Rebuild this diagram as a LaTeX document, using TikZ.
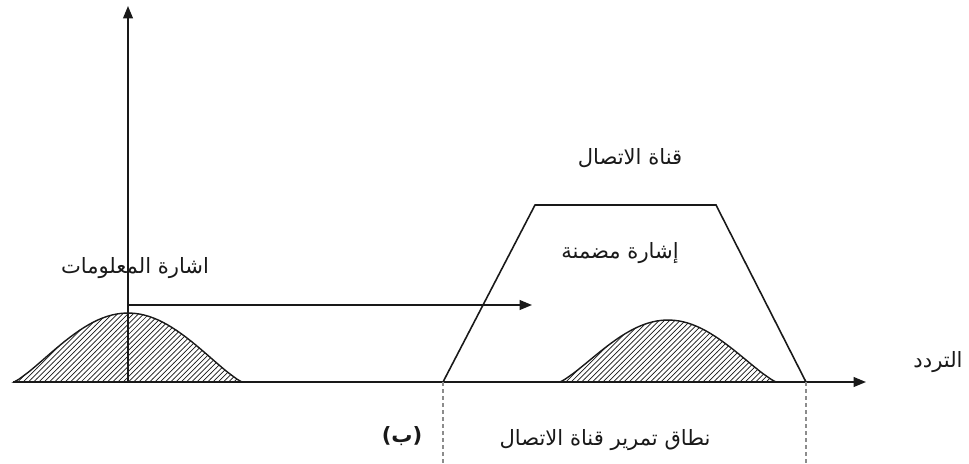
\documentclass[tikz,border=0pt]{standalone}
\usepackage{fontspec}
\usepackage{tikz}
\usetikzlibrary{arrows.meta,patterns}
\newfontfamily\arabicfont[Script=Arabic]{DejaVu Sans}
\TeXXeTstate=1
\definecolor{inkK}{RGB}{25,25,25}
\definecolor{dashG}{RGB}{140,140,140}

\begin{document}
\begin{tikzpicture}[
  x=0.02cm,y=-0.02cm,
  >={Triangle[length=7pt,width=5.5pt]},
  ax/.style={draw=inkK,line width=1pt},
  hump/.style={draw=inkK,line width=0.8pt,pattern=north east lines,pattern color=inkK},
  chan/.style={draw=inkK,line width=0.9pt},
  lim/.style={draw=dashG,line width=1.1pt,dash pattern=on 2pt off 2pt},
  lab/.style={font=\arabicfont\fontsize{12}{14}\selectfont,inner sep=1pt,text=inkK}
]
  \useasboundingbox (0,0) rectangle (969,463);

  % baseband and modulated spectra
  \filldraw[hump] plot[domain=-1:1,samples=50] ({128+114*\x},{382-69*cos(90*\x)^1.2}) -- cycle;
  \filldraw[hump] plot[domain=-1:1,samples=50] ({668+108*\x},{382-62*cos(90*\x)^1.2}) -- cycle;

  % axes
  \coordinate (org) at (128,382);
  \coordinate (ytop) at (128,6);
  \coordinate (xbeg) at (13,382);
  \coordinate (xend) at (866,382);
  \draw[ax,->] (org) -- (ytop);
  \draw[ax,->] (xbeg) -- (xend);

  % shift to the channel
  \coordinate (shL) at (128,305);
  \coordinate (shR) at (532,305);
  \draw[ax,->] (shL) -- (shR);

  % channel passband
  \coordinate (cBL) at (443,382);
  \coordinate (cTL) at (535,205);
  \coordinate (cTR) at (716,205);
  \coordinate (cBR) at (806,382);
  \draw[chan] (cBL) -- (cTL) -- (cTR) -- (cBR);
  \coordinate (dL) at (443,463);
  \coordinate (dR) at (806,463);
  \draw[lim] (cBL) -- (dL);
  \draw[lim] (cBR) -- (dR);

  % labels
  \node[lab] (chanlab) at (630,158) {\beginR قناة الاتصال\endR};
  \node[lab] (modlab) at (620,253) {\beginR إشارة مضمنة\endR};
  \node[lab] (infolab) at (135,268) {\beginR اشارة المعلومات\endR};
  \node[lab] (freqlab) at (938,362) {\beginR التردد\endR};
  \node[lab] (bandlab) at (605,440) {\beginR نطاق تمرير قناة الاتصال\endR};
  \node[lab,font=\arabicfont\fontsize{12}{14}\selectfont\bfseries] (partlab) at (402,436) {\beginR(ب)\endR};
\end{tikzpicture}
\end{document}
